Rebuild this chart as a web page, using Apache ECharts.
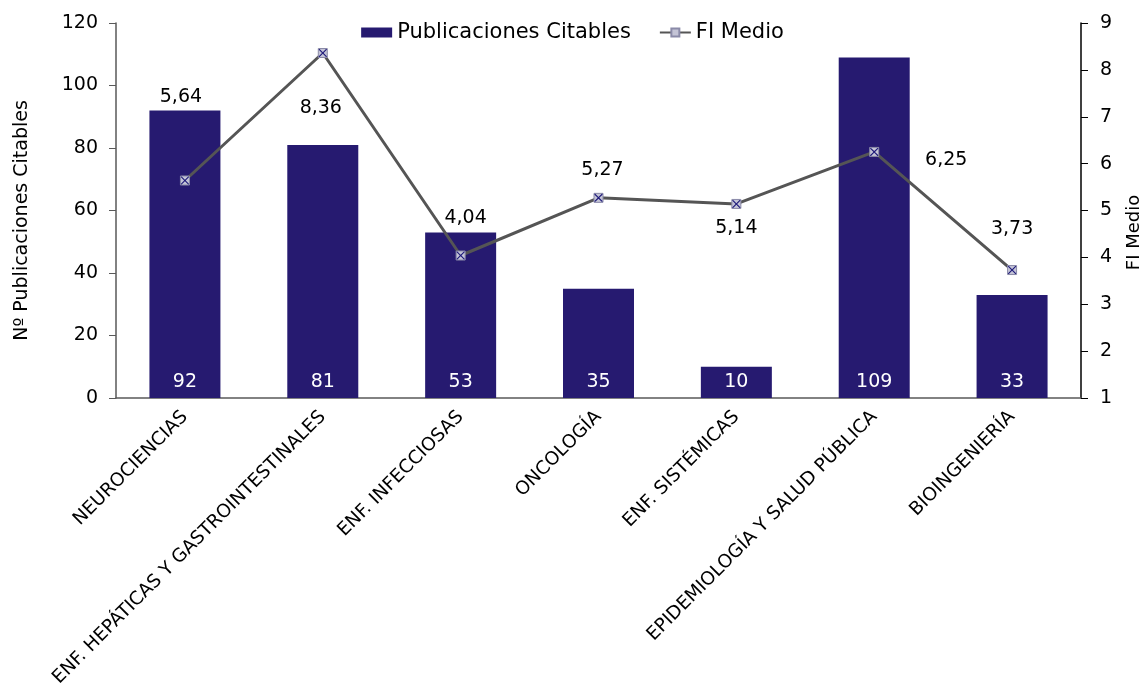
<!DOCTYPE html>
<html><head><meta charset="utf-8">
<script src="https://cdn.jsdelivr.net/npm/echarts@6/dist/echarts.min.js"></script>
<style>html,body{margin:0;padding:0;background:#fff}#c{width:1145px;height:691px}</style>
</head><body><div id="c"></div>
<script>
const categories = ["NEUROCIENCIAS","ENF. HEPÁTICAS Y GASTROINTESTINALES","ENF. INFECCIOSAS","ONCOLOGÍA","ENF. SISTÉMICAS","EPIDEMIOLOGÍA Y SALUD PÚBLICA","BIOINGENIERÍA"];
const publicaciones = [92, 81, 53, 35, 10, 109, 33];
const fiMedio = [5.64, 8.36, 4.04, 5.27, 5.14, 6.25, 3.73];
const leftTicks = [0, 20, 40, 60, 80, 100, 120];
const rightTicks = [1, 2, 3, 4, 5, 6, 7, 8, 9];
// label offsets for FI labels (styling only)
const fiLabelOffsets = [[-4,-83],[-2,55],[5,-37],[4,-28],[0,24],[72,8],[0,-41]];

const FONT = "DejaVu Sans";
const navy = "#261a70";
const chart = echarts.init(document.getElementById('c'));
chart.setOption({
  animation: false,
  textStyle: {fontFamily: FONT, color: '#000'},
  legend: {
    top: 17, left: 'center', itemGap: 28, itemWidth: 31, itemHeight: 10,
    textStyle: {fontFamily: FONT, fontSize: 21, color: '#000'},
    data: [{name: 'Publicaciones Citables', icon: 'rect'}, {name: 'FI Medio'}]
  },
  grid: {left: 116, right: 64, top: 23, bottom: 293, containLabel: false, outerBoundsMode: 'none'},
  xAxis: {
    type: 'category', data: categories,
    axisLine: {lineStyle: {color: '#595959', width: 1.5}},
    axisTick: {show: false},
    axisLabel: {rotate: 45, interval: 0, fontSize: 18.5, color: '#000', margin: 16, fontFamily: FONT}
  },
  yAxis: [{
    type: 'value', min: leftTicks[0], max: leftTicks[leftTicks.length-1], interval: 20,
    name: 'Nº Publicaciones Citables', nameLocation: 'middle', nameRotate: 90, nameGap: 84,
    nameTextStyle: {fontSize: 19, color: '#000', fontFamily: FONT, padding: [0, 20, 0, 0]},
    axisLine: {show: true, lineStyle: {color: '#595959', width: 1.5}},
    axisTick: {show: true, length: 7, lineStyle: {color: '#595959'}},
    axisLabel: {fontSize: 19, color: '#000', margin: 18, fontFamily: FONT},
    splitLine: {show: false}
  }, {
    type: 'value', min: rightTicks[0], max: rightTicks[rightTicks.length-1], interval: 1,
    name: 'FI Medio', nameLocation: 'middle', nameRotate: 90, nameGap: 44,
    nameTextStyle: {fontSize: 18, color: '#000', fontFamily: FONT, padding: [0, 44, 0, 0]},
    axisLine: {show: true, lineStyle: {color: '#000', width: 1.5}},
    axisTick: {show: true, length: 7, lineStyle: {color: '#000'}},
    axisLabel: {fontSize: 19, color: '#000', margin: 19, fontFamily: FONT},
    splitLine: {show: false}
  }],
  series: [{
    name: 'Publicaciones Citables', type: 'bar', yAxisIndex: 0, barWidth: '51.5%',
    data: publicaciones,
    itemStyle: {color: navy},
    label: {show: true, position: 'insideBottom', distance: 6, color: '#fff', fontSize: 19, fontFamily: FONT}
  }, {
    name: 'FI Medio', type: 'line', yAxisIndex: 1, z: 5,
    data: fiMedio.map((v, i) => ({value: v, label: {offset: fiLabelOffsets[i]}})),
    lineStyle: {color: '#555555', width: 3},
    itemStyle: {color: '#c4c4d6', borderColor: '#8a8aa8', borderWidth: 1},
    symbol: 'rect', symbolSize: 9,
    label: {show: true, position: 'inside', fontSize: 19, color: '#000', fontFamily: FONT,
      formatter: p => p.value.toFixed(2).replace('.', ',')}
  }, {
    name: 'FI marker', type: 'line', yAxisIndex: 1, z: 6,
    data: fiMedio,
    lineStyle: {opacity: 0}, silent: true,
    symbol: 'path://M0,0 L1,0 L5,4 L9,0 L10,0 L10,1 L6,5 L10,9 L10,10 L9,10 L5,6 L1,10 L0,10 L0,9 L4,5 L0,1 Z',
    symbolSize: 8, itemStyle: {color: '#1e1a7a'}
  }]
});
</script></body></html>
